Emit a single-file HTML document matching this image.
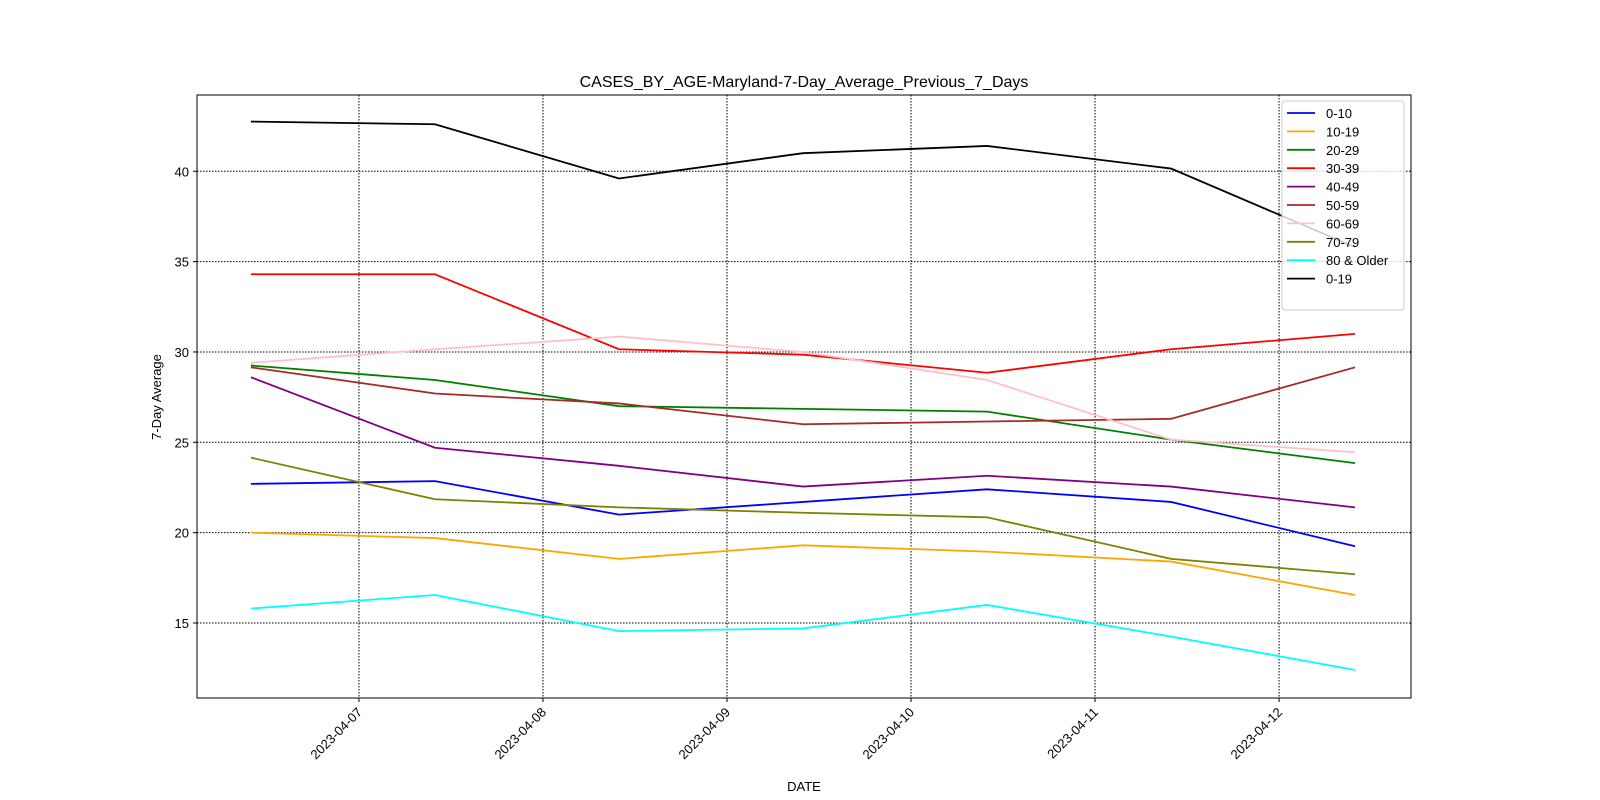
<!DOCTYPE html>
<html><head><meta charset="utf-8"><style>
html,body{margin:0;padding:0;background:#fff;overflow:hidden;width:1600px;height:800px;}
svg{display:block;}
svg text{font-family:"Liberation Sans","DejaVu Sans",sans-serif;fill:#000;}
</style></head><body>
<svg id="chart" width="1600" height="800" xmlns="http://www.w3.org/2000/svg">
<rect width="1600" height="800" fill="#fff"/>
<text x="804" y="87" font-size="16" text-anchor="middle">CASES_BY_AGE-Maryland-7-Day_Average_Previous_7_Days</text>
<text transform="translate(161,397) rotate(-90)" font-size="13" text-anchor="middle">7-Day Average</text>
<text x="804" y="791" font-size="13" text-anchor="middle">DATE</text>
<g id="grid"></g><g id="series"></g><g id="axes"></g><g id="legend"></g>
</svg>
<script>
const xDays=[6.413,7.413,8.413,9.413,10.413,11.413,12.413];
const xTickDays=[7,8,9,10,11,12];
const xTickLabels=["2023-04-07","2023-04-08","2023-04-09","2023-04-10","2023-04-11","2023-04-12"];
const yTicks=[15,20,25,30,35,40];
const seriesNames=["0-10","10-19","20-29","30-39","40-49","50-59","60-69","70-79","80 & Older","0-19"];
const seriesColors=["#0000ff","#ffa500","#008000","#ff0000","#800080","#a52a2a","#ffc0cb","#808000","#00ffff","#000000"];
const s0_10=[22.7,22.85,21.0,21.7,22.4,21.7,19.25];
const s10_19=[20.0,19.7,18.55,19.3,18.95,18.4,16.55];
const s20_29=[29.25,28.45,27.0,26.85,26.7,25.15,23.85];
const s30_39=[34.3,34.3,30.15,29.85,28.85,30.15,31.0];
const s40_49=[28.6,24.7,23.7,22.55,23.15,22.55,21.4];
const s50_59=[29.15,27.7,27.15,26.0,26.15,26.3,29.15];
const s60_69=[29.4,30.15,30.85,30.0,28.45,25.15,24.45];
const s70_79=[24.15,21.85,21.4,21.1,20.85,18.55,17.7];
const s80=[15.8,16.55,14.55,14.7,16.0,14.25,12.4];
const s0_19=[42.75,42.6,39.6,41.0,41.4,40.15,35.8];
const seriesData=[s0_10,s10_19,s20_29,s30_39,s40_49,s50_59,s60_69,s70_79,s80,s0_19];

const L=197,R=1411,T=95,B=698;
const xMin=6.12,xMax=12.717,yMin=10.85,yMax=44.22;
const X=d=>L+(d-xMin)/(xMax-xMin)*(R-L);
const Y=v=>B-(v-yMin)/(yMax-yMin)*(B-T);
const NS="http://www.w3.org/2000/svg";
function mk(tag,attrs,parent){const e=document.createElementNS(NS,tag);for(const k in attrs)e.setAttribute(k,attrs[k]);parent.appendChild(e);return e;}
const grid=document.getElementById('grid'),axes=document.getElementById('axes'),ser=document.getElementById('series'),leg=document.getElementById('legend');
xTickDays.forEach((d,i)=>{
 const x=X(d);
 const g=mk('line',{x1:x,x2:x,y1:T,y2:B,stroke:'#000','stroke-width':1,'stroke-dasharray':'1.5,1.5'},grid);
 
 
 mk('line',{x1:x,x2:x,y1:B,y2:B+4,stroke:'#000'},axes);
 const t=mk('text',{transform:`translate(${x+4},${B+15}) rotate(-45)`,'font-size':13,'text-anchor':'end'},axes);
 t.textContent=xTickLabels[i];
 
 
});
yTicks.forEach(v=>{
 const y=Y(v);
 const g=mk('line',{x1:L,x2:R,y1:y,y2:y,stroke:'#000','stroke-width':1,'stroke-dasharray':'1.5,1.5'},grid);
 
 
 mk('line',{x1:L-4,x2:L,y1:y,y2:y,stroke:'#000'},axes);
 const t=mk('text',{x:L-8,y:y+5,'font-size':13,'text-anchor':'end'},axes);
 t.textContent=v;
 
 
});
seriesData.forEach((arr,i)=>{
 const p=mk('polyline',{points:arr.map((v,j)=>X(xDays[j])+','+Y(v)).join(' '),fill:'none',stroke:seriesColors[i],'stroke-width':1.8},ser);
 
 
});
const frame=mk('rect',{x:L,y:T,width:R-L,height:B-T,fill:'none',stroke:'#000','stroke-width':1},axes);


const box=mk('rect',{x:1282,y:101,width:122,height:209,rx:3,fill:'#fff','fill-opacity':0.8,stroke:'#ccc'},leg);


seriesNames.forEach((n,i)=>{
 const y=113+i*18.4;
 const g=mk('g',{},leg);
 
 
 mk('line',{x1:1287,x2:1315,y1:y,y2:y,stroke:seriesColors[i],'stroke-width':1.8},g);
 const t=mk('text',{x:1326,y:y+5,'font-size':13},g);
 t.textContent=n;
});
</script>
</body></html>
